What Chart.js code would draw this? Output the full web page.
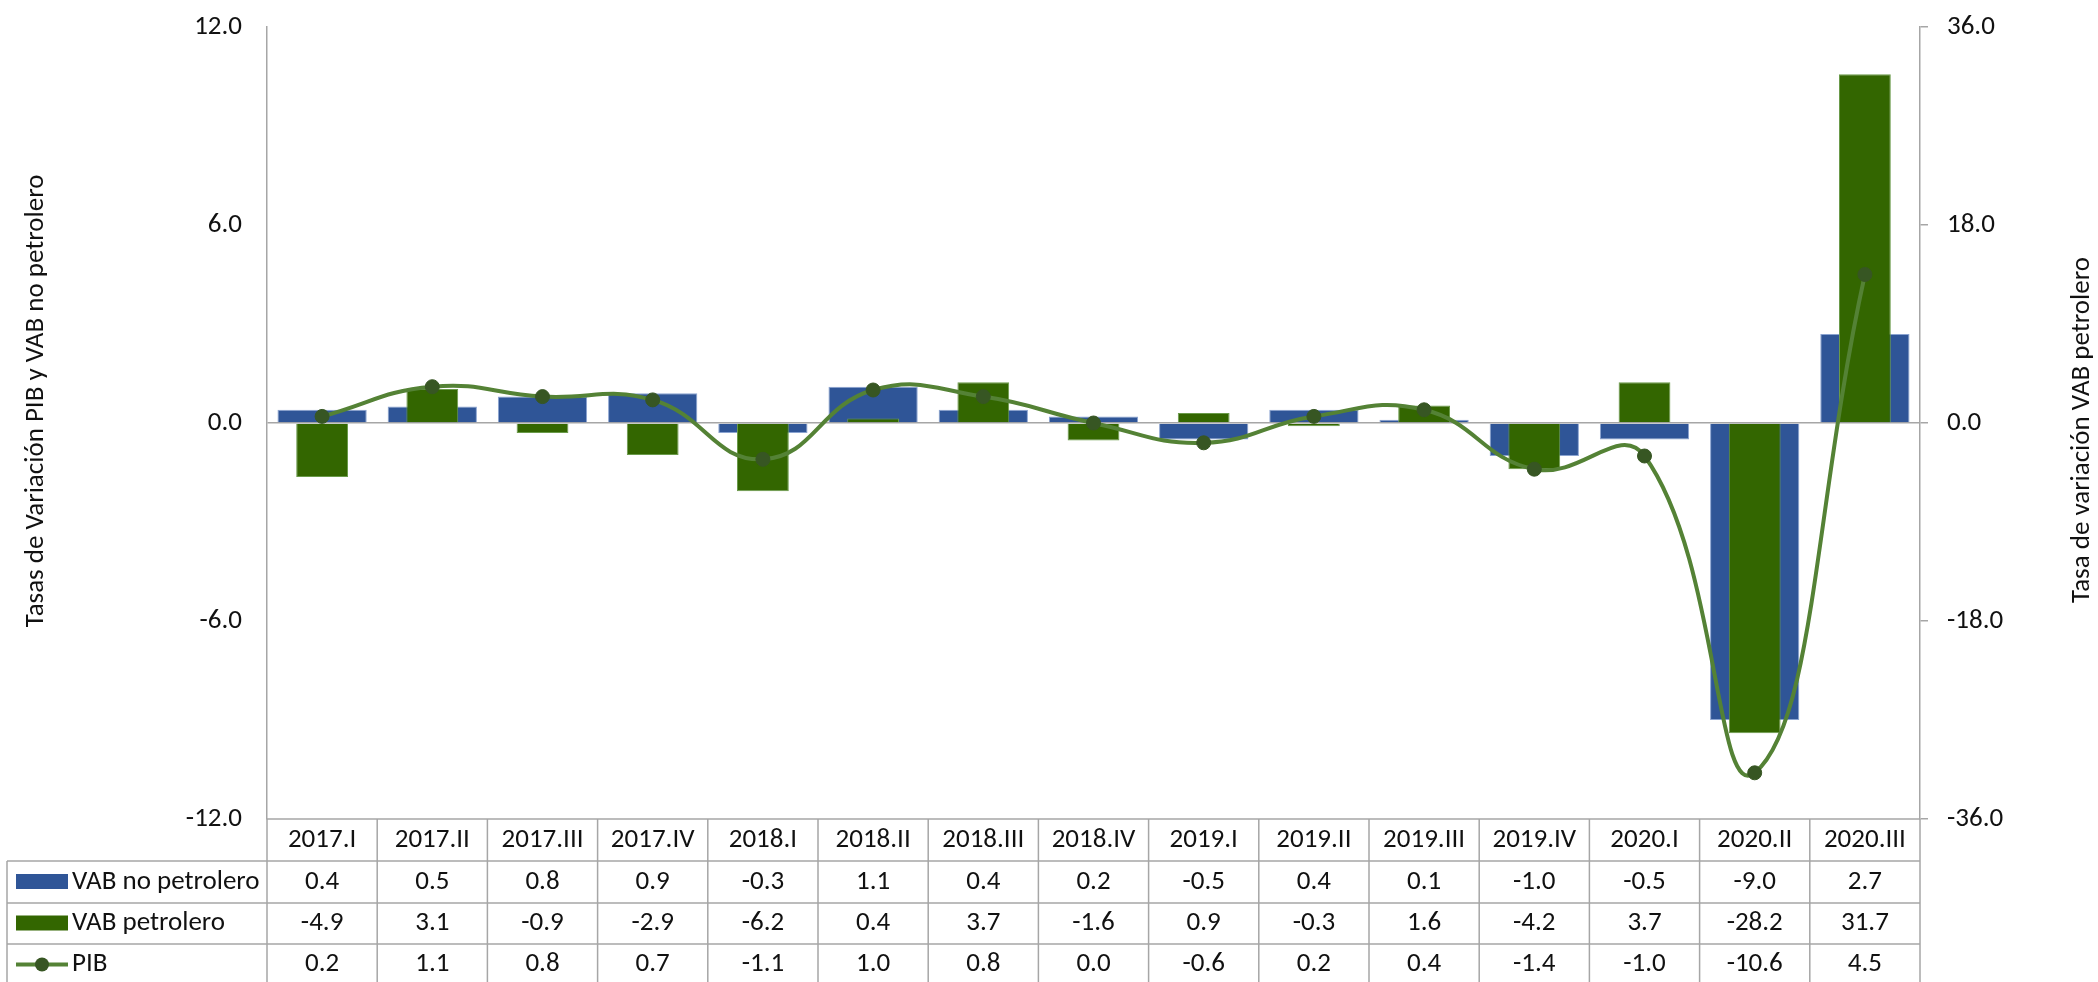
<!DOCTYPE html>
<html>
<head>
<meta charset="utf-8">
<script src="https://cdn.jsdelivr.net/npm/chart.js@4.4.1/dist/chart.umd.min.js"></script>
<style>
    html, body { margin: 0; padding: 0; background: #fff; }
    canvas { display: block; }
</style>
</head>
<body>
<canvas id="grafico" width="2098" height="982"></canvas>
<script>
// datos del grafico (tasas de variacion trimestral)
var trimestres = ['2017.I', '2017.II', '2017.III', '2017.IV', '2018.I', '2018.II', '2018.III', '2018.IV',
    '2019.I', '2019.II', '2019.III', '2019.IV', '2020.I', '2020.II', '2020.III'];
var vabNoPetrolero = [0.4, 0.5, 0.8, 0.9, -0.3, 1.1, 0.4, 0.2, -0.5, 0.4, 0.1, -1.0, -0.5, -9.0, 2.7];
var vabPetrolero = [-4.9, 3.1, -0.9, -2.9, -6.2, 0.4, 3.7, -1.6, 0.9, -0.3, 1.6, -4.2, 3.7, -28.2, 31.7];
var pib = [0.2, 1.1, 0.8, 0.7, -1.1, 1.0, 0.8, 0.0, -0.6, 0.2, 0.4, -1.4, -1.0, -10.6, 4.5];

var ticksIzq = [-12, -6, 0, 6, 12];
var ticksDer = [-36, -18, 0, 18, 36];
var nombresSeries = ['VAB no petrolero', 'VAB petrolero', 'PIB'];
var tituloIzq = 'Tasas de Variación PIB y VAB no petrolero';
var tituloDer = 'Tasa de variación VAB petrolero';

var azul = '#2F5597';
var verde = '#336600';
var lineaPib = '#548235';
var marcadorPib = '#375623';
var gris = '#A6A6A6';
var fuente = "'Carlito', 'Liberation Sans Narrow', 'Arial Narrow', 'Liberation Sans', sans-serif";
var tamFuente = 27;

// dibuja la tabla de datos y los titulos de los ejes
var tablaPlugin = {
    id: 'tabla',
    afterDraw: function (chart) {
        let ctx = chart.ctx;
        let x = chart.scales.x;
        let area = chart.chartArea;
        let colW = x.width / trimestres.length;
        let filas = [area.bottom, area.bottom + 42, area.bottom + 84, area.bottom + 125, area.bottom + 166];
        let izq = 7;

        ctx.save();
        ctx.strokeStyle = gris;
        ctx.lineWidth = 1.5;
        ctx.beginPath();
        // linea superior de encabezado
        ctx.moveTo(x.left, filas[0]);
        ctx.lineTo(x.right, filas[0]);
        for (let r = 1; r < filas.length; r++) {
            ctx.moveTo(izq, filas[r]);
            ctx.lineTo(x.right, filas[r]);
        }
        ctx.moveTo(izq, filas[1]);
        ctx.lineTo(izq, filas[4]);
        for (let i = 0; i <= trimestres.length; i++) {
            let xx = x.left + i * colW;
            ctx.moveTo(xx, filas[0]);
            ctx.lineTo(xx, filas[4]);
        }
        ctx.stroke();

        ctx.fillStyle = '#111';
        ctx.font = tamFuente + 'px ' + fuente;
        ctx.textAlign = 'center';
        ctx.textBaseline = 'middle';

        let series = [vabNoPetrolero, vabPetrolero, pib];
        trimestres.forEach(function (t, i) {
            let cx = x.getPixelForValue(i);
            ctx.fillText(t, cx, (filas[0] + filas[1]) / 2);
            series.forEach(function (s, k) {
                ctx.fillText(s[i].toFixed(1), cx, (filas[k + 1] + filas[k + 2]) / 2);
            });
        });

        // leyenda
        ctx.textAlign = 'left';
        nombresSeries.forEach(function (n, k) {
            let cy = (filas[k + 1] + filas[k + 2]) / 2;
            if (k < 2) {
                ctx.fillStyle = k === 0 ? azul : verde;
                ctx.fillRect(16, cy - 8, 52, 15);
            } else {
                ctx.strokeStyle = lineaPib;
                ctx.lineWidth = 4;
                ctx.beginPath();
                ctx.moveTo(16, cy);
                ctx.lineTo(68, cy);
                ctx.stroke();
                ctx.fillStyle = marcadorPib;
                ctx.beginPath();
                ctx.arc(42, cy, 7, 0, Math.PI * 2);
                ctx.fill();
            }
            ctx.fillStyle = '#111';
            ctx.fillText(n, 72, cy);
        });

        // titulos de ejes
        ctx.textAlign = 'center';
        ctx.save();
        ctx.translate(36, 401);
        ctx.rotate(-Math.PI / 2);
        ctx.fillText(tituloIzq, 0, 0);
        ctx.restore();
        ctx.save();
        ctx.translate(2082, 430);
        ctx.rotate(-Math.PI / 2);
        ctx.fillText(tituloDer, 0, 0);
        ctx.restore();
        ctx.restore();
    }
};

let ctxGrafico = document.getElementById('grafico').getContext('2d');

let grafico = new Chart(ctxGrafico, {
    data: {
        labels: trimestres,
        datasets: [{
            type: 'line',
            label: 'PIB',
            data: pib,
            yAxisID: 'y',
            borderColor: lineaPib,
            borderWidth: 4,
            pointRadius: 7,
            pointBackgroundColor: marcadorPib,
            pointBorderColor: marcadorPib,
            pointBorderWidth: 1,
            tension: 0.45,
            order: 0
        }, {
            type: 'bar',
            label: 'VAB petrolero',
            data: vabPetrolero,
            yAxisID: 'y2',
            backgroundColor: verde,
            borderColor: '#6a9a4a',
            borderWidth: 1,
            grouped: false,
            barPercentage: 0.47,
            categoryPercentage: 1.0,
            order: 1
        }, {
            type: 'bar',
            label: 'VAB no petrolero',
            data: vabNoPetrolero,
            yAxisID: 'y',
            backgroundColor: azul,
            borderColor: '#8aa3d0',
            borderWidth: 1,
            grouped: false,
            barPercentage: 0.81,
            categoryPercentage: 1.0,
            order: 2
        }]
    },
    options: {
        responsive: false,
        animation: false,
        layout: {
            padding: { top: 27, left: 0, right: 0, bottom: 0 }
        },
        plugins: {
            legend: { display: false },
            tooltip: { enabled: false }
        },
        scales: {
            x: {
                ticks: { display: false },
                grid: { display: false },
                border: { display: false },
                afterFit: function (scale) { scale.height = 163; }
            },
            y: {
                position: 'left',
                min: -12,
                max: 12,
                afterBuildTicks: function (scale) {
                    scale.ticks = ticksIzq.map(function (v) { return { value: v }; });
                },
                ticks: {
                    padding: 25,
                    color: '#111',
                    font: { family: fuente, size: tamFuente },
                    callback: function (v) { return Number(v).toFixed(1); }
                },
                grid: {
                    drawTicks: false,
                    lineWidth: 1.5,
                    color: function (c) { return c.tick && c.tick.value === 0 ? gris : 'rgba(0,0,0,0)'; }
                },
                border: { color: gris, width: 1.5 },
                afterFit: function (scale) {
                    scale.width = 267;
                    scale.paddingTop = 14;
                    scale.paddingBottom = 14;
                }
            },
            y2: {
                position: 'right',
                min: -36,
                max: 36,
                afterBuildTicks: function (scale) {
                    scale.ticks = ticksDer.map(function (v) { return { value: v }; });
                },
                ticks: {
                    padding: 19,
                    color: '#111',
                    font: { family: fuente, size: tamFuente },
                    callback: function (v) { return Number(v).toFixed(1); }
                },
                grid: {
                    drawOnChartArea: false,
                    drawTicks: true,
                    tickLength: 8,
                    lineWidth: 1.5,
                    color: gris
                },
                border: { color: gris, width: 1.5 },
                afterFit: function (scale) {
                    scale.width = 178;
                    scale.paddingTop = 14;
                    scale.paddingBottom = 14;
                }
            }
        }
    },
    plugins: [tablaPlugin]
});
</script>
</body>
</html>
